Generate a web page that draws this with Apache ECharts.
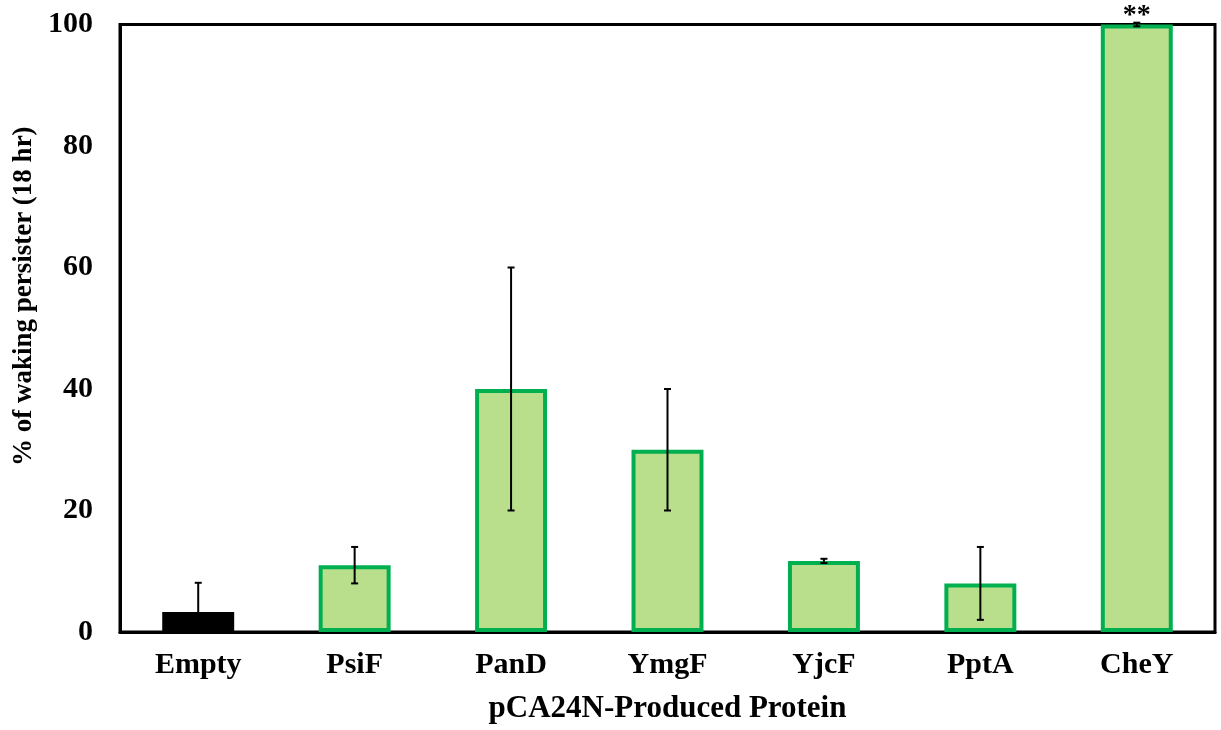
<!DOCTYPE html>
<html>
<head>
<meta charset="utf-8">
<script src="https://cdn.jsdelivr.net/npm/echarts@6/dist/echarts.min.js"></script>
<style>
  html, body { margin: 0; padding: 0; background: #fff; }
  #chart { width: 1221px; height: 730px; }
</style>
</head>
<body>
<div id="chart"></div>
<script>
// Proteins expressed from pCA24N and the share of persisters that woke up
const categories = ['Empty', 'PsiF', 'PanD', 'YmgF', 'YjcF', 'PptA', 'CheY'];
const values = [3.3, 11, 40, 30, 11.7, 8, 100];
const errors = [4.8, 3, 20, 10, 0.35, 6, 0.3];
const annotations = ['', '', '', '', '', '', '**'];
const yTicks = [0, 20, 40, 60, 80, 100];

const FONT = '"Liberation Serif", "Times New Roman", serif';
const GREEN_FILL = '#B9DF8D';
const GREEN_EDGE = '#00B050';

const barData = values.map((v, i) => {
  const isControl = i === 0;
  return {
    value: v,
    itemStyle: isControl
      ? { color: '#000000', borderColor: '#000000', borderWidth: 3 }
      : { color: GREEN_FILL, borderColor: GREEN_EDGE, borderWidth: 4 },
    label: annotations[i]
      ? { show: true, position: 'top', formatter: annotations[i], distance: 0, offset: [0, 5],
          fontFamily: FONT, fontWeight: 'bold', fontSize: 28, color: '#000' }
      : { show: false }
  };
});

// error bar ends, kept at or above the baseline
const errData = values.map((v, i) => [i, Math.max(0, v - errors[i]), v + errors[i]]);

const chart = echarts.init(document.getElementById('chart'), null, { renderer: 'canvas' });
chart.setOption({
  animation: false,
  backgroundColor: '#ffffff',
  grid: {
    left: 120, right: 6, top: 24.5, bottom: 98,
    show: true, borderColor: '#000', borderWidth: 3, backgroundColor: 'transparent'
  },
  xAxis: {
    type: 'category',
    data: categories,
    name: 'pCA24N-Produced Protein',
    nameLocation: 'middle',
    nameGap: 61,
    nameTextStyle: { fontFamily: FONT, fontWeight: 'bold', fontSize: 31, color: '#000' },
    axisLine: { show: true, lineStyle: { color: '#000', width: 3 } },
    axisTick: { show: false },
    axisLabel: { margin: 18, fontFamily: FONT, fontWeight: 'bold', fontSize: 30, color: '#000' }
  },
  yAxis: {
    type: 'value',
    min: 0, max: 100, interval: 20,
    name: '% of waking persister (18 hr)',
    nameLocation: 'middle',
    nameGap: 79,
    nameTextStyle: {
      fontFamily: FONT, fontWeight: 'bold', fontSize: 27, color: '#000',
      padding: [0, 0, 0, 64]
    },
    axisLine: { show: true, lineStyle: { color: '#000', width: 3 } },
    axisTick: { show: false },
    splitLine: { show: false },
    axisLabel: {
      margin: 27, fontFamily: FONT, fontWeight: 'bold', fontSize: 30, color: '#000',
      formatter: v => (yTicks.includes(v) ? String(v) : '')
    }
  },
  series: [
    {
      type: 'bar',
      data: barData,
      barWidth: '46%',
      clip: false,
      z: 3
    },
    {
      type: 'custom',
      z: 5,
      clip: false,
      data: errData,
      renderItem: function (params, api) {
        const x = api.coord([api.value(0), 0])[0];
        const lo = api.coord([api.value(0), api.value(1)])[1];
        const hi = api.coord([api.value(0), api.value(2)])[1];
        const cap = 3.5;
        const style = { stroke: '#000', lineWidth: 2 };
        return {
          type: 'group',
          children: [
            { type: 'line', shape: { x1: x, y1: lo, x2: x, y2: hi }, style: style },
            { type: 'line', shape: { x1: x - cap, y1: hi, x2: x + cap, y2: hi }, style: style },
            { type: 'line', shape: { x1: x - cap, y1: lo, x2: x + cap, y2: lo }, style: style }
          ]
        };
      }
    }
  ]
});
</script>
</body>
</html>
